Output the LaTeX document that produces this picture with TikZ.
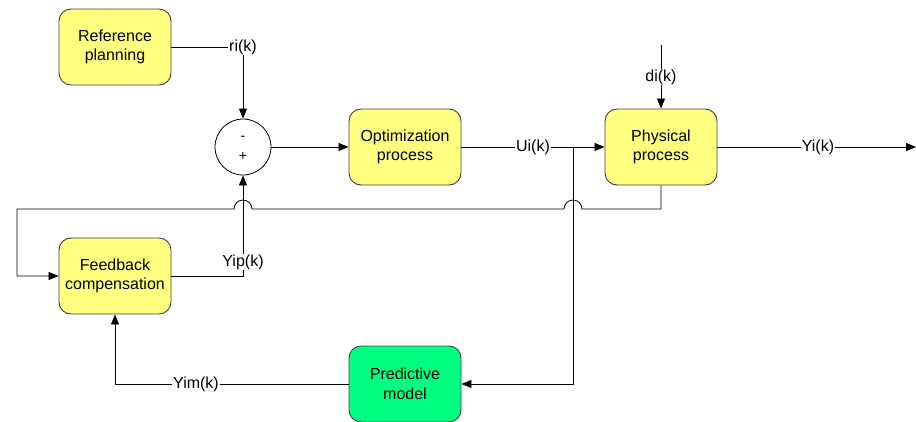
\documentclass[tikz,border=0pt]{standalone}
\usepackage{fontspec}
\setmainfont{Liberation Sans}
\usetikzlibrary{arrows.meta}
\definecolor{byellow}{RGB}{255,255,128}
\definecolor{bgreen}{RGB}{0,255,128}
\definecolor{bline}{RGB}{64,64,64}
\begin{document}
\begin{tikzpicture}[x=1pt,y=-1pt,
  blk/.style={draw=bline, line width=0.9pt, fill=byellow, minimum width=112pt, minimum height=76pt,
    rounded corners=12pt, align=center, inner sep=0pt, font=\fontsize{16}{19.5}\selectfont},
  lbl/.style={fill=white, inner sep=0.5pt, font=\fontsize{16}{19.5}\selectfont},
  sgn/.style={inner sep=0pt, font=\fontsize{14}{16}\selectfont},
  arr/.style={-{Triangle[length=10pt,width=8pt]}},
  every path/.style={line width=0.8pt}]
\useasboundingbox (0,0) rectangle (916,421);
% blocks
\node[blk] (ref) at (115,47) {Reference\\planning};
\node[draw, circle, minimum size=56pt, inner sep=0pt] (sum) at (243,147) {};
\node[sgn] (minus) at (243,138) {-};
\node[sgn] (plus) at (243,156) {+};
\node[blk] (opt) at (405,147) {Optimization\\process};
\node[blk] (phy) at (661,147) {Physical\\process};
\node[blk] (fb) at (115,276) {Feedback\\compensation};
\node[blk, fill=bgreen] (pm) at (405,384) {Predictive\\model};
% labels
\node[lbl] (ri) at (243,47) {ri(k)};
\node[lbl] (ui) at (533,147) {Ui(k)};
\node[lbl] (di) at (661,77) {di(k)};
\node[lbl] (yi) at (818,147) {Yi(k)};
\node[lbl] (yim) at (196,384) {Yim(k)};
% helper coordinates
\coordinate (br) at (573,147);
\coordinate (dtop) at (661,45);
\coordinate (yend) at (916,147);
\coordinate (fbturn) at (661,209);
\coordinate (hop1) at (582,209);
\coordinate (hop2) at (252,209);
\coordinate (lft) at (17,209);
\coordinate (lfb) at (17,276);
% connectors
\draw (ref.east) -- (ri.west);
\draw[arr] (ri.south) -- (sum.north);
\draw[arr] (sum.east) -- (opt.west);
\draw (opt.east) -- (ui.west);
\draw[arr] (ui.east) -- (phy.west);
\draw[arr] (br) |- (pm.east);
\draw (dtop) -- (di.north);
\draw[arr] (di.south) -- (phy.north);
\draw (phy.east) -- (yi.west);
\draw[arr] (yi.east) -- (yend);
\draw[arr] (phy.south) -- (fbturn) -- (hop1) arc[start angle=0, end angle=-180, radius=9]
  -- (hop2) arc[start angle=0, end angle=-180, radius=9] -- (lft) -- (lfb) -- (fb.west);
\draw[arr] (fb.east) -| (sum.south);
\node[lbl] (yip) at (243,262) {Yip(k)};
\draw (pm.west) -- (yim.east);
\draw[arr] (yim.west) -| (fb.south);
\end{tikzpicture}
\end{document}
